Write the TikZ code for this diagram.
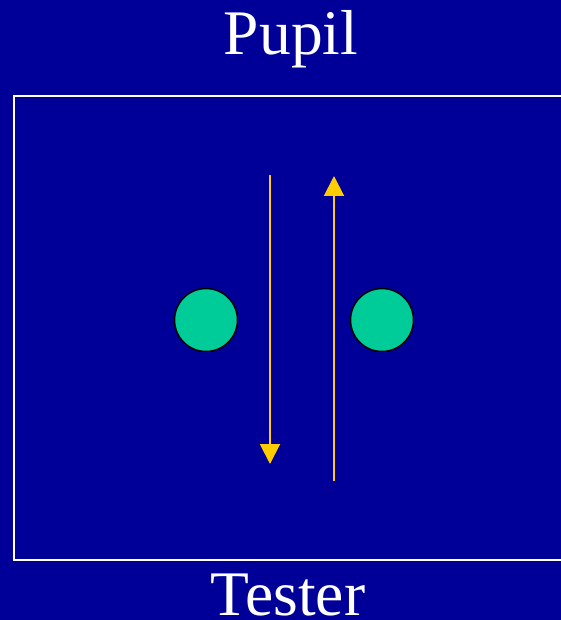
\documentclass[tikz,border=0pt]{standalone}
\usepackage{fontspec}
\setmainfont{Liberation Serif}
\usetikzlibrary{arrows.meta}
\definecolor{bgblue}{HTML}{000099}
\definecolor{ballgreen}{HTML}{00CC99}
\definecolor{arrowyellow}{HTML}{FFCC00}
\begin{document}
\begin{tikzpicture}[x=1pt,y=-1pt,
  ball/.style={circle,draw=black,line width=1.5pt,fill=ballgreen,minimum size=63pt,inner sep=0pt},
  label/.style={text=white,font=\fontsize{63.5}{70}\selectfont,anchor=base,inner sep=0pt},
  flow/.style={draw=arrowyellow,line width=2pt,-{Triangle[width=20pt,length=20pt]}}]
  \useasboundingbox (0,0) rectangle (561,620);
  \clip (0,0) rectangle (561,620);
  \fill[bgblue] (0,0) rectangle (561,620);
  \draw[white,line width=2pt] (14,96) rectangle (580,560);
  \node[label] (pupil) at (291,55) {Pupil};
  \node[label] (tester) at (288,615) {Tester};
  \node[ball] (left) at (206,320) {};
  \node[ball] (right) at (382,320) {};
  \coordinate (d1) at (270,175);
  \coordinate (d2) at (270,464);
  \coordinate (u1) at (334,481);
  \coordinate (u2) at (334,176);
  \draw[flow] (d1) -- (d2);
  \draw[flow] (u1) -- (u2);
\end{tikzpicture}
\end{document}
